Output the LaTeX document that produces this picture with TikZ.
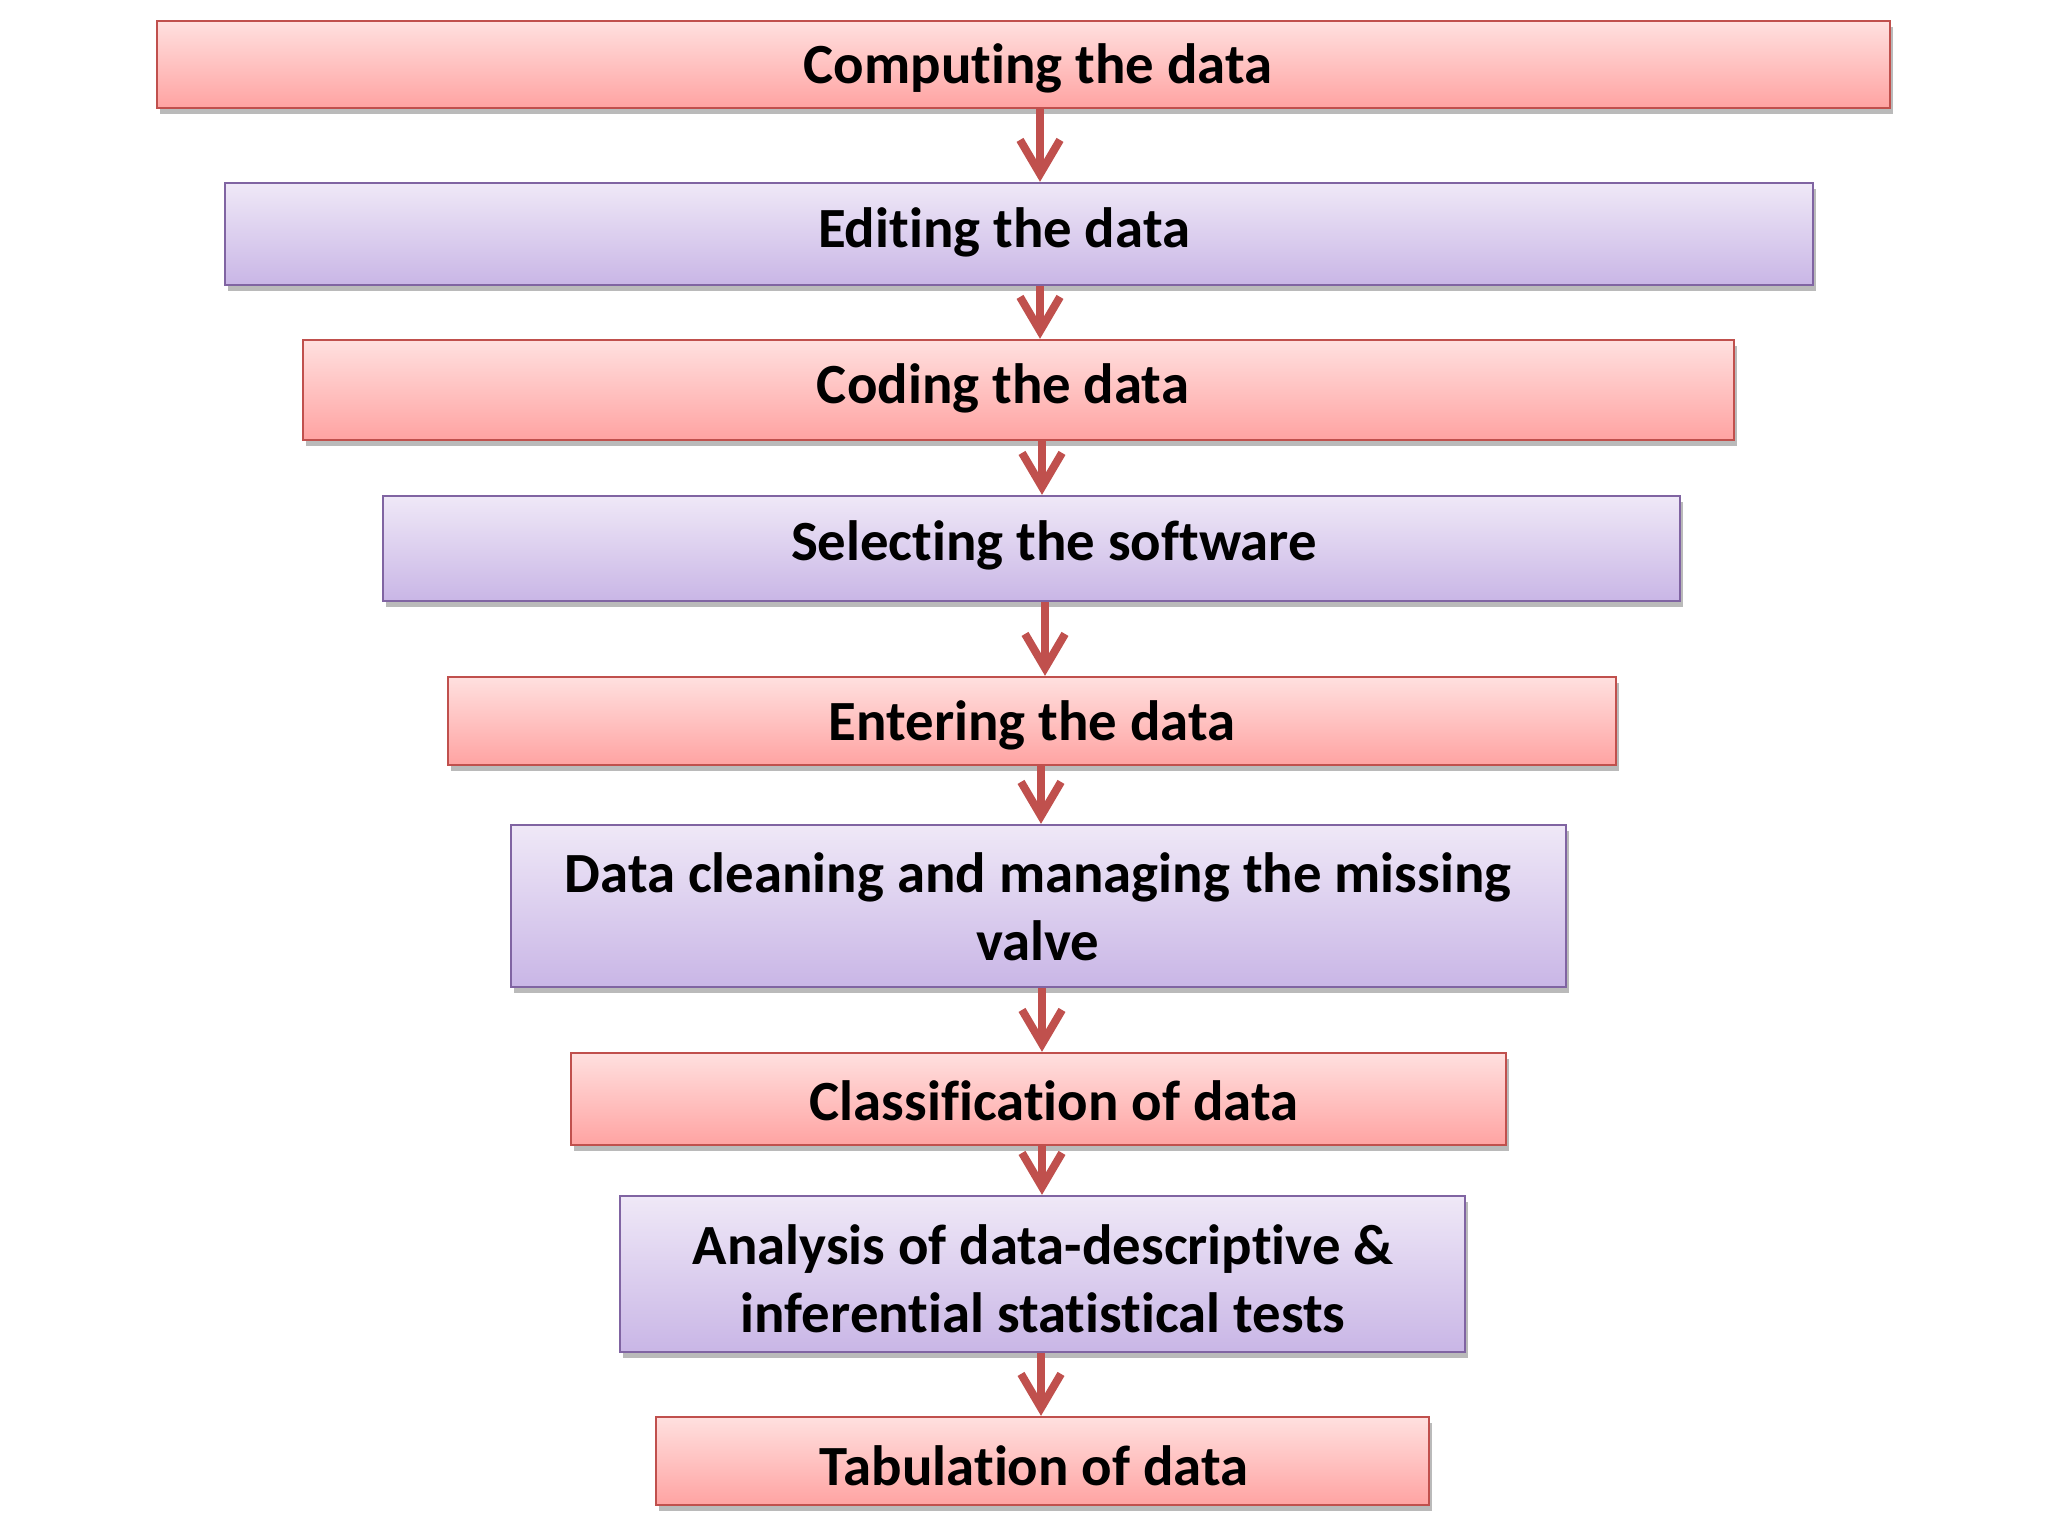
\documentclass[tikz,border=0pt]{standalone}
\usepackage{fontspec}
\setmainfont[RawFeature={-liga;-clig;-calt;-dlig}]{Carlito}
\usetikzlibrary{arrows.meta,shadows,calc}
\definecolor{pinkline}{HTML}{C0504D}
\definecolor{pinktop}{HTML}{FFE0DF}
\definecolor{pinkbot}{HTML}{FFA3A2}
\definecolor{purpline}{HTML}{8064A2}
\definecolor{purptop}{HTML}{EFE8F7}
\definecolor{purpbot}{HTML}{C9B6E6}
\definecolor{arrowred}{HTML}{C0504D}
\tikzset{
  px/.style={x=0.5pt,y=-0.5pt},
  boxbase/.style={rectangle, inner sep=0pt, line width=1.2pt,
    drop shadow={shadow xshift=1.5pt, shadow yshift=-3pt, fill=black!45, opacity=0.6}},
  pinkbox/.style={boxbase, draw=pinkline, top color=pinktop, bottom color=pinkbot},
  purpbox/.style={boxbase, draw=purpline, top color=purptop, bottom color=purpbot},
  txt/.style={font=\bfseries\fontsize{28.4}{34}\selectfont, align=center, inner sep=0pt, text=black},
  flow/.style={draw=arrowred, line width=4pt,
    -{Straight Barb[length=17pt,width=20pt,line width=4pt]}}
}
\begin{document}
\begin{tikzpicture}[px]
\useasboundingbox (0,0) rectangle (2048,1536);
\fill[white] (0,0) rectangle (2048,1536);
% boxes
\node[pinkbox, minimum width=866.5pt, minimum height=43.5pt] (b1) at (1023.5,64.5) {};
\node[purpbox, minimum width=794pt, minimum height=51pt] (b2) at (1019,234) {};
\node[pinkbox, minimum width=715.5pt, minimum height=50pt] (b3) at (1018.5,390) {};
\node[purpbox, minimum width=648.5pt, minimum height=52.5pt] (b4) at (1031.5,548.5) {};
\node[pinkbox, minimum width=584pt, minimum height=44pt] (b5) at (1032,721) {};
\node[purpbox, minimum width=527.5pt, minimum height=81pt] (b6) at (1038.5,906) {};
\node[pinkbox, minimum width=467.5pt, minimum height=46pt] (b7) at (1038.5,1099) {};
\node[purpbox, minimum width=422.5pt, minimum height=78pt] (b8) at (1042.5,1274) {};
\node[pinkbox, minimum width=386.5pt, minimum height=44pt] (b9) at (1042.5,1461) {};
% texts
\node[txt] (t1) at (1038,68) {Computing the data};
\node[txt] (t2) at (1004,232) {Editing the data};
\node[txt] (t3) at (1003,388) {Coding the data};
\node[txt] (t4) at (1054,545) {Selecting the software};
\node[txt] (t5) at (1032,725) {Entering the data};
\node[txt] (t6) at (1038,907) {Data cleaning and managing the missing\\valve};
\node[txt] (t7) at (1054,1101) {Classification of data};
\node[txt] (t8) at (1043,1279) {Analysis of data-descriptive \&\\inferential statistical tests};
\node[txt] (t9) at (1034,1466) {Tabulation of data};
% arrow x positions
\coordinate (a1) at (1040,0);
\coordinate (a2) at (1040,0);
\coordinate (a3) at (1042,0);
\coordinate (a4) at (1045,0);
\coordinate (a5) at (1041,0);
\coordinate (a6) at (1042,0);
\coordinate (a7) at (1042,0);
\coordinate (a8) at (1041,0);
\draw[flow] (b1.south -| a1) -- (b2.north -| a1);
\draw[flow] (b2.south -| a2) -- (b3.north -| a2);
\draw[flow] (b3.south -| a3) -- (b4.north -| a3);
\draw[flow] (b4.south -| a4) -- (b5.north -| a4);
\draw[flow] (b5.south -| a5) -- (b6.north -| a5);
\draw[flow] (b6.south -| a6) -- (b7.north -| a6);
\draw[flow] (b7.south -| a7) -- (b8.north -| a7);
\draw[flow] (b8.south -| a8) -- (b9.north -| a8);
\end{tikzpicture}
\end{document}
